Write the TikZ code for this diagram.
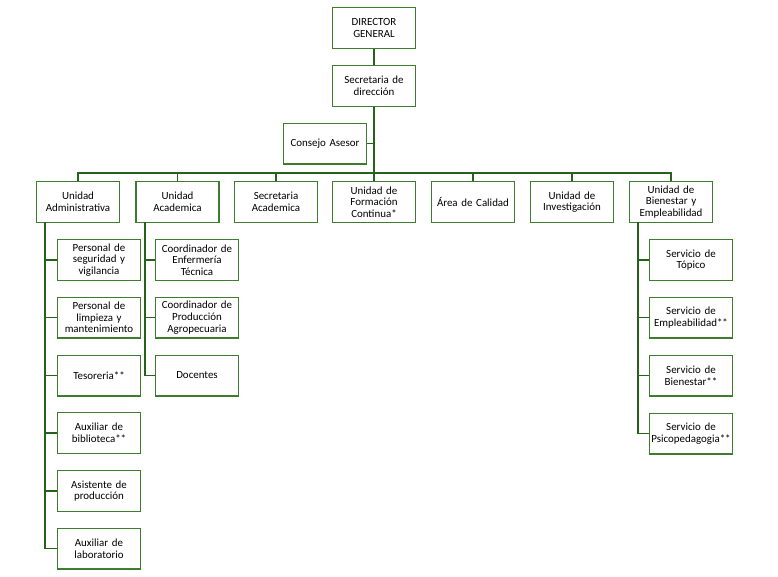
\documentclass[tikz,border=0pt]{standalone}
\usepackage{fontspec}
\setmainfont{Carlito}
\definecolor{boxgreen}{RGB}{62,125,46}
\definecolor{linegreen}{RGB}{38,98,28}
\tikzset{
  box/.style={draw=boxgreen, line width=1.1pt, fill=white, rectangle,
    minimum width=61.5pt, minimum height=30.4pt, inner sep=1pt,
    align=center, text width=60pt,
    font=\fontsize{8.2}{8.75}\selectfont},
  conn/.style={draw=linegreen, line width=1.3pt}
}
\begin{document}
\begin{tikzpicture}[x=0.75pt,y=-0.75pt]
\useasboundingbox (0,0) rectangle (778,576);
% top
\node[box] (dg) at (374,28) {DIRECTOR\\GENERAL};
\node[box] (sd) at (374,86) {Secretaria de\\dirección};
\node[box] (ca) at (325,143.5) {Consejo Asesor};
% level 2
\node[box] (ua)  at (78,202)    {Unidad\\Administrativa};
\node[box] (uac) at (177.5,202) {Unidad\\Academica};
\node[box] (sa)  at (276,202)   {Secretaria\\Academica};
\node[box] (ufc) at (374,202)   {Unidad de\\Formación\\Continua*};
\node[box] (ac)  at (473,202)   {Área de Calidad};
\node[box] (ui)  at (572,202)   {Unidad de\\Investigación};
\node[box] (ube) at (671,202)   {Unidad de\\Bienestar y\\Empleabilidad};
% admin children
\node[box] (a1) at (99,260)   {Personal de\\seguridad y\\vigilancia};
\node[box] (a2) at (99,317.5) {Personal de\\limpieza y\\mantenimiento};
\node[box] (a3) at (99,375.5) {Tesoreria**};
\node[box] (a4) at (99,433)   {Auxiliar de\\biblioteca**};
\node[box] (a5) at (99,491)   {Asistente de\\producción};
\node[box] (a6) at (99,548.5) {Auxiliar de\\laboratorio};
% academica children
\node[box] (b1) at (197,260)   {Coordinador de\\Enfermería\\Técnica};
\node[box] (b2) at (197,317.5) {Coordinador de\\Producción\\Agropecuaria};
\node[box] (b3) at (197,375.5) {Docentes};
% bienestar children
\node[box] (c1) at (691,260)   {Servicio de\\Tópico};
\node[box] (c2) at (691,317.5) {Servicio de\\Empleabilidad**};
\node[box] (c3) at (691,375.5) {Servicio de\\Bienestar**};
\node[box] (c4) at (691,433.5) {Servicio de\\Psicopedagogia**};
% coordinates
\coordinate (bus) at (374,173);
\coordinate (aTop) at (45,222.3);
\coordinate (bTop) at (145,222.3);
\coordinate (cTop) at (638,222.3);
% connectors
\draw[conn] (dg.south) -- (sd.north);
\draw[conn] (sd.south) -- (bus);
\draw[conn] (ca.east) -- (ca.east -| bus);
\draw[conn] (ua.north) |- (bus) -| (ube.north);
\foreach \n in {uac,sa,ufc,ac,ui}{
  \draw[conn] (\n.north) -- (\n.north |- bus);
}
\draw[conn] (aTop) |- (a6.west);
\foreach \n in {a1,a2,a3,a4,a5}{
  \draw[conn] (\n.west) -- (\n.west -| aTop);
}
\draw[conn] (bTop) |- (b3.west);
\foreach \n in {b1,b2}{
  \draw[conn] (\n.west) -- (\n.west -| bTop);
}
\draw[conn] (cTop) |- (c4.west);
\foreach \n in {c1,c2,c3}{
  \draw[conn] (\n.west) -- (\n.west -| cTop);
}
\end{tikzpicture}
\end{document}
